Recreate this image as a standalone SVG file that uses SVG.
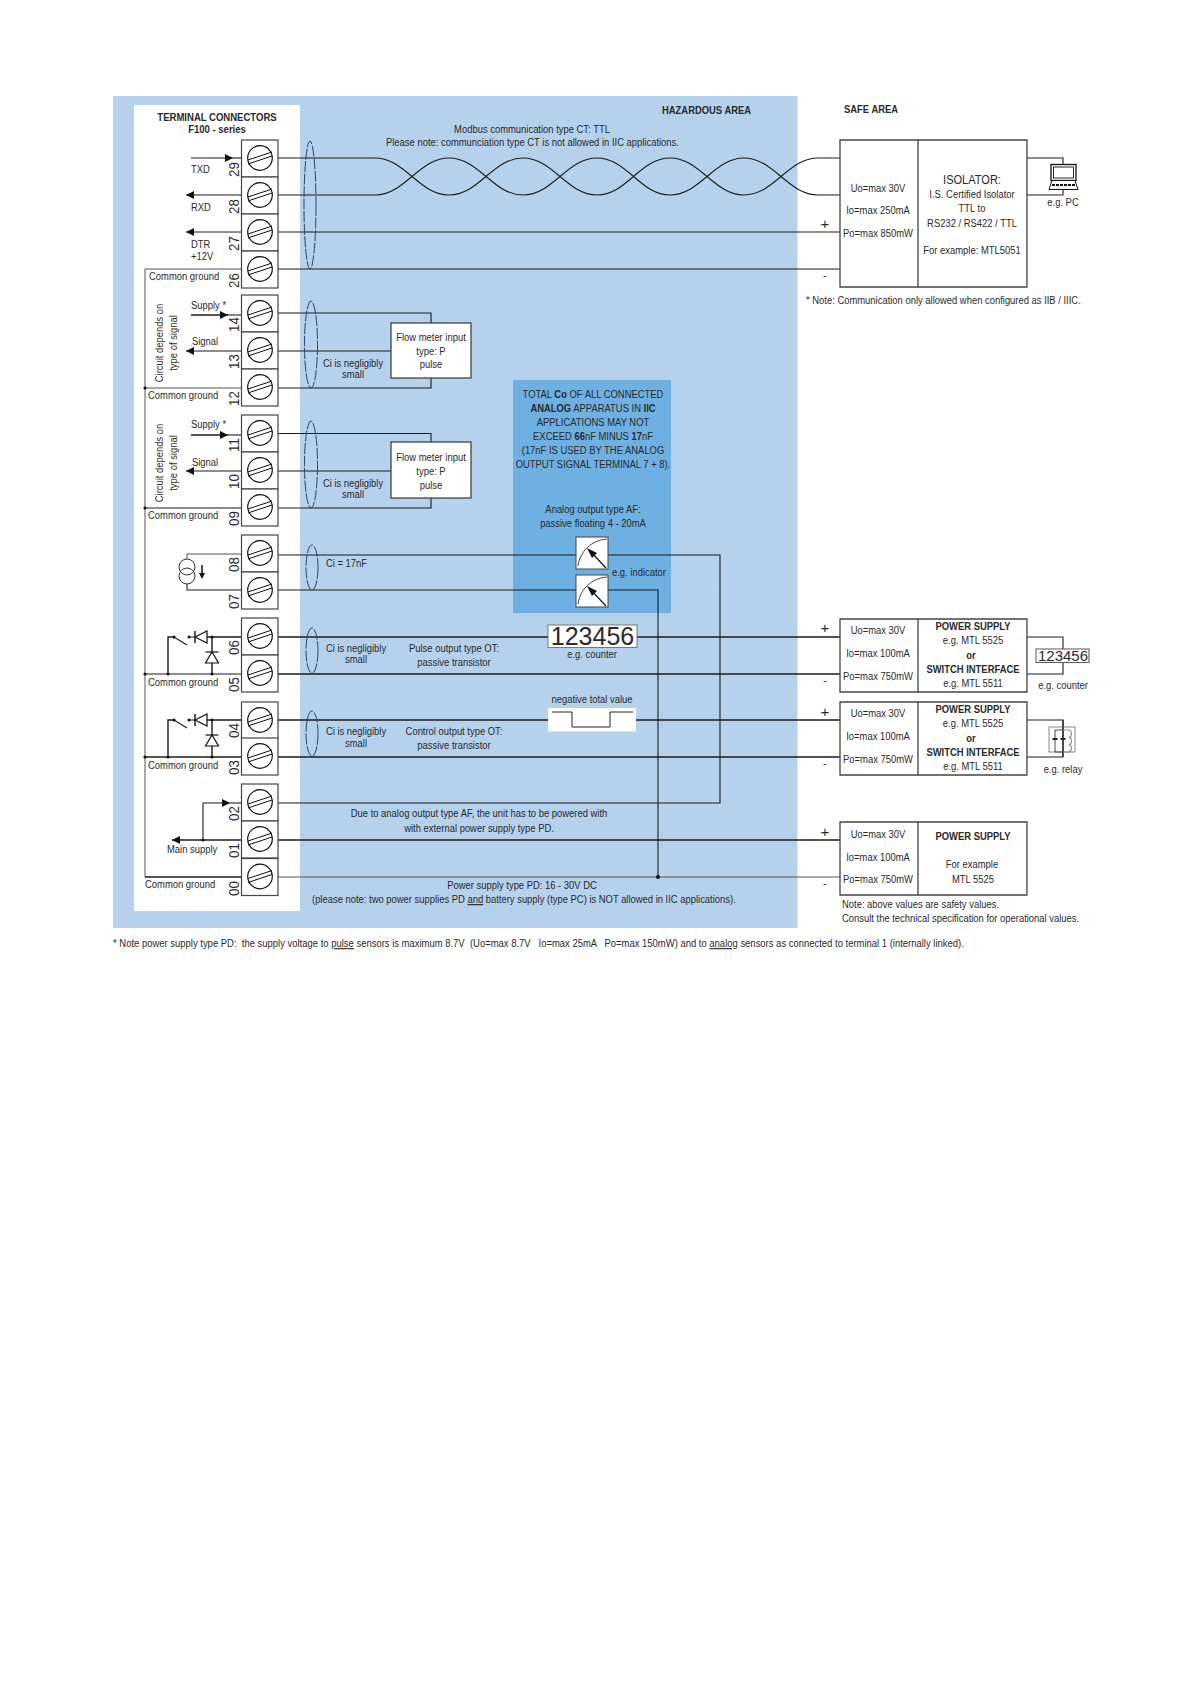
<svg xmlns="http://www.w3.org/2000/svg" width="1191" height="1684" viewBox="0 0 1191 1684">
<style>
text{font-family:"Liberation Sans",Arial,sans-serif;font-size:11.5px;fill:#2a2a2a}
.m{text-anchor:middle}
.b{font-weight:bold}
.n{font-size:14.5px}
.s{font-size:15px}
.w{fill:none;stroke:#1c1c1c;stroke-width:1.1}
.h{fill:none;stroke:#1c1c1c;stroke-width:1.4}
.g{fill:none;stroke:#555;stroke-width:1}
.e{fill:none;stroke:#24476e;stroke-width:1;stroke-dasharray:11 1.500}
.bx{fill:#fff;stroke:#444;stroke-width:1.3}
.u{text-decoration:underline}
.p{white-space:pre}
</style>
<defs>
<g id="term"><rect width="36.5" height="37" fill="#fff" stroke="#444" stroke-width="1.2"/><circle cx="18.5" cy="18" r="12.3" fill="#fff" stroke="#111" stroke-width="1.2"/><path d="M6.5 20L30.5 12M6.5 24L30.5 16" fill="none" stroke="#111" stroke-width="1"/></g>
<marker id="ah" markerWidth="9" markerHeight="8" refX="8" refY="4" orient="auto" markerUnits="userSpaceOnUse"><path d="M0 0L8 4L0 8z" fill="#111"/></marker>
<g id="dial"><rect width="32" height="32" fill="#fff" stroke="#444" stroke-width="1"/><path d="M2 29C4 14 16 3 31 2" fill="none" stroke="#111" stroke-width=".8"/><path d="M30 31L14 14" stroke="#111" stroke-width="1.200"/><path d="M11 11L21 16L16 21z" fill="#111"/></g>
</defs>
<rect width="1191" height="1684" fill="#fff"/>
<g id="areas">
<rect id="hazardous" x="113" y="96" width="684.5" height="832" fill="#b5d1ec"/>
<rect id="terminal-panel" x="134" y="105" width="166" height="806" fill="#fff"/>
<rect id="analog-note-bg" x="513" y="380" width="158" height="233" fill="#6db0e1"/>
</g>
<g id="connectors">
<path class="w" d="M278 158H375C405 158 419 195 449 195C479 195 493 158 523 158C553 158 567 195 597 195C627 195 640 158 670 158C700 158 714 195 744 195C774 195 788 158 818 158H840"/>
<path class="w" d="M278 195H375C405 195 419 158 449 158C479 158 493 195 523 195C553 195 567 158 597 158C627 158 640 195 670 195C700 195 714 158 744 158C774 158 788 195 818 195H840"/>
<path class="w" d="M278 232H840M278 269H840M1027 158H1063V165M1027 195H1063V190"/>
<path class="w" d="M278 313H431V323M278 351H391M278 388H431V378"/>
<path class="w" d="M278 433.500H431V442M278 471H391M278 508H431V498"/>
<path class="w" d="M278 555H576M608 555H720V803H278M278 590H576M608 590H658V877"/>
<path class="h" d="M278 637H840M278 674H840M278 720H840M278 757H840M278 840H840"/>
<path class="g" d="M278 877H840"/>
<path class="w" d="M1027 637H1063V674H1027M1027 720H1063V757H1027"/>
<circle cx="658" cy="877" r="2" fill="#111"/>
<ellipse class="e" cx="310" cy="205" rx="6" ry="64"/>
<ellipse class="e" cx="311" cy="344.500" rx="6.500" ry="43.500"/>
<ellipse class="e" cx="311" cy="464.500" rx="6.500" ry="43.500"/>
<ellipse class="e" cx="312" cy="567.500" rx="6" ry="22.500"/>
<ellipse class="e" cx="312" cy="650.500" rx="6" ry="22.500"/>
<ellipse class="e" cx="312" cy="733.500" rx="6" ry="22.500"/>
<path class="g" d="M241 269H145V877"/>
<path class="h" d="M145 877H241"/>
<path class="g" d="M145 388H241"/>
<path class="w" d="M145 508H241M145 674H241"/><path class="h" d="M145 757H241"/>
<g fill="#111"><circle cx="145" cy="388" r="1.600"/><circle cx="145" cy="508" r="1.600"/><circle cx="145" cy="674" r="1.600"/><circle cx="145" cy="757" r="1.600"/></g>
<path class="w" d="M191 158H233" marker-end="url(#ah)"/><path class="w" d="M233 158H241"/>
<path class="w" d="M241 195H186" marker-end="url(#ah)"/>
<path class="w" d="M241 232H186" marker-end="url(#ah)"/>
<path class="h" d="M191 315H228" marker-end="url(#ah)"/><path class="w" d="M228 315H241"/>
<path class="w" d="M241 351H186" marker-end="url(#ah)"/>
<path class="h" d="M191 435H228" marker-end="url(#ah)"/><path class="w" d="M228 435H241"/>
<path class="w" d="M241 471H186" marker-end="url(#ah)"/>
<path class="w" d="M203 840V803H230" marker-end="url(#ah)"/><path class="w" d="M230 803H241"/>
<path class="h" d="M241 840H172" marker-end="url(#ah)"/>
<circle cx="203" cy="840" r="1.600" fill="#111"/>
</g>
<g id="terminals">
<g id="t29"><use href="#term" x="241.500" y="140"/><text class="n" transform="translate(238.500,177) rotate(-90) scale(.92 1)">29</text></g>
<g id="t28"><use href="#term" x="241.500" y="177"/><text class="n" transform="translate(238.500,214) rotate(-90) scale(.92 1)">28</text></g>
<g id="t27"><use href="#term" x="241.500" y="214"/><text class="n" transform="translate(238.500,251) rotate(-90) scale(.92 1)">27</text></g>
<g id="t26"><use href="#term" x="241.500" y="251"/><text class="n" transform="translate(238.500,288) rotate(-90) scale(.92 1)">26</text></g>
<g id="t14"><use href="#term" x="241.500" y="295"/><text class="n" transform="translate(238.500,332) rotate(-90) scale(.92 1)">14</text></g>
<g id="t13"><use href="#term" x="241.500" y="332"/><text class="n" transform="translate(238.500,369) rotate(-90) scale(.92 1)">13</text></g>
<g id="t12"><use href="#term" x="241.500" y="369"/><text class="n" transform="translate(238.500,406) rotate(-90) scale(.92 1)">12</text></g>
<g id="t11"><use href="#term" x="241.500" y="415"/><text class="n" transform="translate(238.500,452) rotate(-90) scale(.92 1)">11</text></g>
<g id="t10"><use href="#term" x="241.500" y="452"/><text class="n" transform="translate(238.500,489) rotate(-90) scale(.92 1)">10</text></g>
<g id="t09"><use href="#term" x="241.500" y="489"/><text class="n" transform="translate(238.500,526) rotate(-90) scale(.92 1)">09</text></g>
<g id="t08"><use href="#term" x="241.500" y="535"/><text class="n" transform="translate(238.500,572) rotate(-90) scale(.92 1)">08</text></g>
<g id="t07"><use href="#term" x="241.500" y="572"/><text class="n" transform="translate(238.500,609) rotate(-90) scale(.92 1)">07</text></g>
<g id="t06"><use href="#term" x="241.500" y="618"/><text class="n" transform="translate(238.500,655) rotate(-90) scale(.92 1)">06</text></g>
<g id="t05"><use href="#term" x="241.500" y="655"/><text class="n" transform="translate(238.500,692) rotate(-90) scale(.92 1)">05</text></g>
<g id="t04"><use href="#term" x="241.500" y="702"/><text class="n" transform="translate(238.500,738) rotate(-90) scale(.92 1)">04</text></g>
<g id="t03"><use href="#term" x="241.500" y="738"/><text class="n" transform="translate(238.500,775) rotate(-90) scale(.92 1)">03</text></g>
<g id="t02"><use href="#term" x="241.500" y="784"/><text class="n" transform="translate(238.500,821) rotate(-90) scale(.92 1)">02</text></g>
<g id="t01"><use href="#term" x="241.500" y="821"/><text class="n" transform="translate(238.500,858) rotate(-90) scale(.92 1)">01</text></g>
<g id="t00"><use href="#term" x="241.500" y="858.500"/><text class="n" transform="translate(238.500,896) rotate(-90) scale(.92 1)">00</text></g>
</g>
<g id="current-source">
<path class="g" d="M241 554H187V560"/><path class="w" d="M241 590H187V584"/>
<ellipse cx="187" cy="567" rx="8" ry="8" fill="#fff" stroke="#333"/><ellipse cx="187" cy="576" rx="8" ry="8" fill="none" stroke="#333"/>
<path d="M202 565V574" stroke="#111" stroke-width="1.500"/><path d="M199 573H205L202 579z" fill="#111"/>
</g>
<g id="output-06-05">
<path class="h" d="M241 637H207M212 637V652M212 663V674M168 674V637H174"/><path class="w" d="M174 637L187 645M189 637H195"/>
<path d="M195 637L207 631V643z" fill="#fff" stroke="#111" stroke-width="1.200"/><path d="M195 631V643" stroke="#111" stroke-width="1.400"/><circle cx="189" cy="637" r="1.500" fill="#111"/><circle cx="174" cy="637" r="1.500" fill="#111"/>
<path d="M212 652L205.500 663H218.500z" fill="#fff" stroke="#111" stroke-width="1.200"/><path d="M205.500 652H218.500" stroke="#111" stroke-width="1.200"/>
<circle cx="212" cy="637" r="1.500" fill="#111"/><circle cx="212" cy="674" r="1.500" fill="#111"/><circle cx="168" cy="674" r="1.500" fill="#111"/>
</g>
<g id="output-04-03">
<path class="h" d="M241 720H207M212 720V735M212 746V757M168 757V720H174"/><path class="w" d="M174 720L187 728M189 720H195"/>
<path d="M195 720L207 714V726z" fill="#fff" stroke="#111" stroke-width="1.200"/><path d="M195 714V726" stroke="#111" stroke-width="1.400"/><circle cx="189" cy="720" r="1.500" fill="#111"/><circle cx="174" cy="720" r="1.500" fill="#111"/>
<path d="M212 735L205.500 746H218.500z" fill="#fff" stroke="#111" stroke-width="1.200"/><path d="M205.500 735H218.500" stroke="#111" stroke-width="1.200"/>
<circle cx="212" cy="720" r="1.500" fill="#111"/><circle cx="212" cy="757" r="1.500" fill="#111"/><circle cx="168" cy="757" r="1.500" fill="#111"/>
</g>
<g id="left-labels">
<text class="b m" transform="translate(217,121) scale(.83 1)">TERMINAL CONNECTORS</text>
<text class="b m" transform="translate(217,133) scale(.83 1)">F100 - series</text>
<text transform="translate(191,173) scale(.82 1)">TXD</text>
<text transform="translate(191,211) scale(.82 1)">RXD</text>
<text transform="translate(191,248) scale(.82 1)">DTR</text>
<text transform="translate(191,260) scale(.82 1)">+12V</text>
<text transform="translate(149,280) scale(.82 1)">Common ground</text>
<text transform="translate(148,399) scale(.82 1)">Common ground</text>
<text transform="translate(148,519) scale(.82 1)">Common ground</text>
<text transform="translate(148,686) scale(.82 1)">Common ground</text>
<text transform="translate(148,769) scale(.82 1)">Common ground</text>
<text transform="translate(145,888) scale(.82 1)">Common ground</text>
<text transform="translate(191,309) scale(.82 1)">Supply *</text>
<text transform="translate(192,345) scale(.82 1)">Signal</text>
<text transform="translate(191,428) scale(.82 1)">Supply *</text>
<text transform="translate(192,466) scale(.82 1)">Signal</text>
<text class="m" transform="translate(163,343) rotate(-90) scale(.82 1)">Circuit depends on</text>
<text class="m" transform="translate(177,343) rotate(-90) scale(.82 1)">type of signal</text>
<text class="m" transform="translate(163,463) rotate(-90) scale(.82 1)">Circuit depends on</text>
<text class="m" transform="translate(177,463) rotate(-90) scale(.82 1)">type of signal</text>
<text transform="translate(167,853) scale(.82 1)">Main supply</text>
</g>
<g id="flow-meter-1">
<rect class="bx" x="391" y="323" width="80" height="55"/>
<text class="m" transform="translate(431,341) scale(.82 1)">Flow meter input</text>
<text class="m" transform="translate(431,355) scale(.82 1)">type: P</text>
<text class="m" transform="translate(431,368) scale(.82 1)">pulse</text>
</g>
<g id="flow-meter-2">
<rect class="bx" x="391" y="442" width="80" height="56"/>
<text class="m" transform="translate(431,461) scale(.82 1)">Flow meter input</text>
<text class="m" transform="translate(431,475) scale(.82 1)">type: P</text>
<text class="m" transform="translate(431,489) scale(.82 1)">pulse</text>
</g>
<g id="indicator-1"><use href="#dial" x="576" y="537"/></g>
<g id="indicator-2"><use href="#dial" x="576" y="575"/></g>
<g id="counter-1">
<rect x="548" y="625" width="89" height="22.500" fill="#fff" stroke="#777"/>
<text class="m" style="font-size:25px" x="592.500" y="645">123456</text>
</g>
<g id="negative-pulse">
<rect x="548" y="708" width="88" height="23.500" fill="#fff"/>
<path d="M552 712H572V727H610V712H633" fill="none" stroke="#222"/>
</g>
<g id="mid-labels">
<text class="b" transform="translate(662,114) scale(.82 1)">HAZARDOUS AREA</text>
<text class="m" transform="translate(532,133) scale(.82 1)">Modbus communication type CT: TTL</text>
<text transform="translate(386,146) scale(.82 1)">Please note: communciation type CT is not allowed in IIC applications.</text>
<text class="m" transform="translate(353,367) scale(.82 1)">Ci is negligibly</text>
<text class="m" transform="translate(353,378) scale(.82 1)">small</text>
<text class="m" transform="translate(353,487) scale(.82 1)">Ci is negligibly</text>
<text class="m" transform="translate(353,498) scale(.82 1)">small</text>
<text transform="translate(326,567) scale(.82 1)">Ci = 17nF</text>
<text class="m" transform="translate(356,652) scale(.82 1)">Ci is negligibly</text>
<text class="m" transform="translate(356,663) scale(.82 1)">small</text>
<text class="m" transform="translate(454,652) scale(.82 1)">Pulse output type OT:</text>
<text class="m" transform="translate(454,666) scale(.82 1)">passive transistor</text>
<text class="m" transform="translate(356,735) scale(.82 1)">Ci is negligibly</text>
<text class="m" transform="translate(356,747) scale(.82 1)">small</text>
<text class="m" transform="translate(454,735) scale(.82 1)">Control output type OT:</text>
<text class="m" transform="translate(454,749) scale(.82 1)">passive transistor</text>
<text class="m" transform="translate(479,817) scale(.82 1)">Due to analog output type AF, the unit has to be powered with</text>
<text class="m" transform="translate(479,832) scale(.82 1)">with external power supply type PD.</text>
<text class="m" transform="translate(522,889) scale(.82 1)">Power supply type PD: 16 - 30V DC</text>
<text transform="translate(312,903) scale(.82 1)">(please note: two power supplies PD <tspan class="u">and</tspan> battery supply (type PC) is NOT allowed in IIC applications).</text>
<text class="m" transform="translate(592,658) scale(.82 1)">e.g. counter</text>
<text class="m" transform="translate(592,703) scale(.82 1)">negative total value</text>
</g>
<g id="analog-note">
<text class="m" transform="translate(593,398) scale(.82 1)">TOTAL <tspan class="b">Co</tspan> OF ALL CONNECTED</text>
<text class="m" transform="translate(593,412) scale(.82 1)"><tspan class="b">ANALOG</tspan> APPARATUS IN <tspan class="b">IIC</tspan></text>
<text class="m" transform="translate(593,426) scale(.82 1)">APPLICATIONS MAY NOT</text>
<text class="m" transform="translate(593,440) scale(.82 1)">EXCEED <tspan class="b">66</tspan>nF MINUS <tspan class="b">17</tspan>nF</text>
<text class="m" transform="translate(593,454) scale(.82 1)">(17nF IS USED BY THE ANALOG</text>
<text class="m" transform="translate(593,468) scale(.82 1)">OUTPUT SIGNAL TERMINAL 7 + 8).</text>
<text class="m" transform="translate(593,513) scale(.82 1)">Analog output type AF:</text>
<text class="m" transform="translate(593,527) scale(.82 1)">passive floating 4 - 20mA</text>
<text transform="translate(612,576) scale(.82 1)">e.g. indicator</text>
</g>
<g id="isolator">
<path class="bx" d="M840 140H1027V287H840zM918 140V287"/>
<text class="m" transform="translate(878,192) scale(.82 1)">Uo=max 30V</text>
<text class="m" transform="translate(878,214) scale(.82 1)">Io=max 250mA</text>
<text class="m" transform="translate(878,237) scale(.82 1)">Po=max 850mW</text>
<text class="m" style="font-size:13px" transform="translate(972,184) scale(.85 1)">ISOLATOR:</text>
<text class="m" transform="translate(972,198) scale(.82 1)">I.S. Certified Isolator</text>
<text class="m" transform="translate(972,212) scale(.82 1)">TTL to</text>
<text class="m" transform="translate(972,227) scale(.82 1)">RS232 / RS422 / TTL</text>
<text class="m" transform="translate(972,254) scale(.82 1)">For example: MTL5051</text>
</g>
<g id="pc">
<rect x="1051" y="164.500" width="25" height="16" fill="#fff" stroke="#111" stroke-width="1.300"/>
<rect x="1053.500" y="167" width="20" height="11" fill="#fff" stroke="#111" stroke-width=".9"/>
<path d="M1052 180.500H1075L1078 189.500H1049z" fill="#fff" stroke="#111"/><path d="M1052 185H1075" stroke="#111" stroke-width="1.800" stroke-dasharray="3 1"/>
<text class="m" transform="translate(1063,206) scale(.82 1)">e.g. PC</text>
</g>
<g id="power-supply-1">
<path class="bx" d="M840 619H1027V692H840zM918 619V692"/>
<text class="m" transform="translate(878,634) scale(.82 1)">Uo=max 30V</text>
<text class="m" transform="translate(878,657) scale(.82 1)">Io=max 100mA</text>
<text class="m" transform="translate(878,680) scale(.82 1)">Po=max 750mW</text>
<text class="m b" transform="translate(973,630) scale(.82 1)">POWER SUPPLY</text>
<text class="m" transform="translate(973,644) scale(.82 1)">e.g. MTL 5525</text>
<text class="m b" transform="translate(971,659) scale(.82 1)">or</text>
<text class="m b" transform="translate(973,673) scale(.82 1)">SWITCH INTERFACE</text>
<text class="m" transform="translate(973,687) scale(.82 1)">e.g. MTL 5511</text>
</g>
<g id="power-supply-2">
<path class="bx" d="M840 702H1027V775H840zM918 702V775"/>
<text class="m" transform="translate(878,717) scale(.82 1)">Uo=max 30V</text>
<text class="m" transform="translate(878,740) scale(.82 1)">Io=max 100mA</text>
<text class="m" transform="translate(878,763) scale(.82 1)">Po=max 750mW</text>
<text class="m b" transform="translate(973,713) scale(.82 1)">POWER SUPPLY</text>
<text class="m" transform="translate(973,727) scale(.82 1)">e.g. MTL 5525</text>
<text class="m b" transform="translate(971,742) scale(.82 1)">or</text>
<text class="m b" transform="translate(973,756) scale(.82 1)">SWITCH INTERFACE</text>
<text class="m" transform="translate(973,770) scale(.82 1)">e.g. MTL 5511</text>
</g>
<g id="power-supply-3">
<path class="bx" d="M840 822H1027V895H840zM918 822V895"/>
<text class="m" transform="translate(878,838) scale(.82 1)">Uo=max 30V</text>
<text class="m" transform="translate(878,861) scale(.82 1)">Io=max 100mA</text>
<text class="m" transform="translate(878,883) scale(.82 1)">Po=max 750mW</text>
<text class="m b" transform="translate(973,840) scale(.82 1)">POWER SUPPLY</text>
<text class="m" transform="translate(972,868) scale(.82 1)">For example</text>
<text class="m" transform="translate(973,883) scale(.82 1)">MTL 5525</text>
</g>
<g id="counter-2">
<rect x="1036" y="649" width="53" height="13.500" fill="#fff" stroke="#555"/>
<text class="m s" x="1063" y="661">123456</text>
<text class="m" transform="translate(1063,689) scale(.82 1)">e.g. counter</text>
</g>
<g id="relay">
<rect x="1049" y="727" width="26" height="25" fill="none" stroke="#888"/>
<path d="M1063 720V757" class="w"/>
<path d="M1063 730H1055V752H1063" fill="none" stroke="#333" stroke-width=".9"/>
<path d="M1063 730H1069M1063 752H1069" fill="none" stroke="#888" stroke-width=".9"/>
<path d="M1069 730a2.500 3.600 0 0 1 0 7.300a2.500 3.600 0 0 1 0 7.300a2.500 3.600 0 0 1 0 7.300" fill="none" stroke="#555" stroke-width=".8"/>
<path d="M1052.500 739H1057.500M1060.500 739H1065.500" stroke="#222" stroke-width="1.800"/>
<text class="m" transform="translate(1063,773) scale(.82 1)">e.g. relay</text>
</g>
<g id="right-labels">
<text class="b" transform="translate(844,113) scale(.82 1)">SAFE AREA</text>
<text class="m s" x="825" y="229">+</text><text class="m" x="825" y="279">-</text>
<text class="m s" x="825" y="633">+</text><text class="m" x="825" y="684">-</text>
<text class="m s" x="825" y="717">+</text><text class="m" x="825" y="767">-</text>
<text class="m s" x="825" y="837">+</text><text class="m" x="825" y="887">-</text>
<text transform="translate(806,304) scale(.82 1)">* Note: Communication only allowed when configured as IIB / IIIC.</text>
<text transform="translate(842,908) scale(.82 1)">Note: above values are safety values.</text>
<text transform="translate(842,922) scale(.82 1)">Consult the technical specification for operational values.</text>
</g>
<g id="footnote">
<text class="p" transform="translate(113,947) scale(.824 1)">* Note power supply type PD:  the supply voltage to <tspan class="u">pulse</tspan> sensors is maximum 8.7V  (Uo=max 8.7V   Io=max 25mA   Po=max 150mW) and to <tspan class="u">analog</tspan> sensors as connected to terminal 1 (internally linked).</text>
</g>
</svg>
